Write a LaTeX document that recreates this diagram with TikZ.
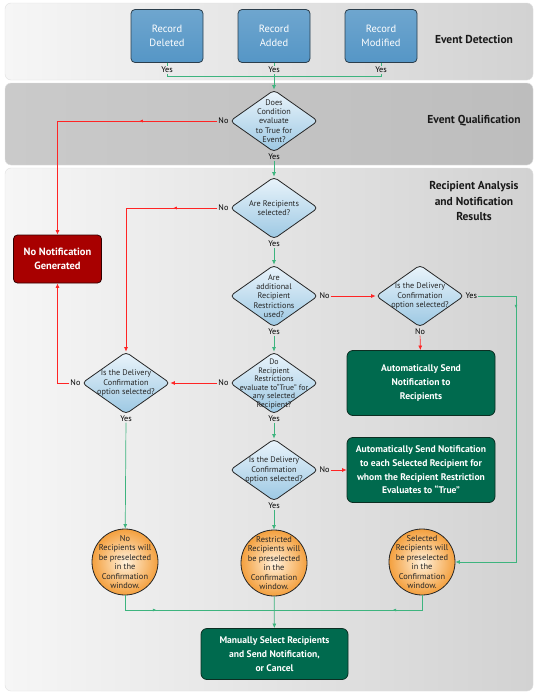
\documentclass[tikz,border=0pt]{standalone}
\usepackage{fontspec}
\setmainfont{PT Sans}
\usetikzlibrary{arrows.meta,shapes.geometric,decorations.markings}

\definecolor{laneL}{HTML}{F6F6F6}
\definecolor{laneM}{HTML}{EEEEEE}
\definecolor{laneR}{HTML}{D2D2D2}
\definecolor{qualL}{HTML}{CACACA}
\definecolor{qualR}{HTML}{BDBDBD}
\definecolor{recblue}{HTML}{5596C6}
\definecolor{recedge}{HTML}{2B3E4C}
\definecolor{qtop}{HTML}{EAF4FB}
\definecolor{qbot}{HTML}{9CC8E3}
\definecolor{nored}{HTML}{A80000}
\definecolor{okgreen}{HTML}{006A4E}
\definecolor{okedge}{HTML}{0C2E22}
\definecolor{linegreen}{HTML}{3DB47E}
\definecolor{linered}{HTML}{FF2424}
\definecolor{orin}{HTML}{FFF1DC}
\definecolor{orout}{HTML}{F4A03E}

\tikzset{
  band/.style   = {rounded corners=6pt, draw=black!12},
  title/.style  = {font=\fontsize{11.5}{15.5}\selectfont\bfseries, align=center, text=black!90},
  record/.style = {draw=recedge, line width=0.8pt, rounded corners=4pt,
                   top color=recblue!85!white, bottom color=recblue,
                   minimum width=72pt, minimum height=53pt, align=center,
                   text=white, font=\fontsize{10.5}{13.5}\selectfont},
  query/.style  = {diamond, draw=black!85, line width=0.8pt, rounded corners=4pt,
                   top color=qtop, bottom color=qbot,
                   minimum width=88pt, minimum height=62pt, inner sep=0pt},
  qtext/.style  = {align=center, text=black!85, inner sep=0pt,
                   font=\fontsize{8.2}{9.2}\selectfont},
  stopbox/.style= {draw=black!70!nored, line width=0.8pt, rounded corners=4pt, fill=nored,
                   minimum width=88pt, minimum height=48pt, align=center,
                   text=white, font=\fontsize{10.5}{14}\selectfont\bfseries},
  sendbox/.style= {draw=okedge, line width=0.8pt, rounded corners=6pt, fill=okgreen,
                   minimum width=148pt, minimum height=65pt, align=center,
                   text=white, font=\fontsize{9.6}{13.7}\selectfont\bfseries},
  pick/.style   = {circle, draw=black!85, line width=0.8pt,
                   inner color=orin, outer color=orout, minimum size=66pt, inner sep=0pt},
  ptext/.style  = {align=center, text=black!85, inner sep=0pt,
                   font=\fontsize{8.4}{9.4}\selectfont},
  lbl/.style    = {font=\fontsize{8.2}{9}\selectfont, inner sep=1pt, text=black},
  yesline/.style= {draw=linegreen, line width=0.7pt},
  noline/.style = {draw=linered, line width=0.7pt},
  midarr/.style = {postaction={decorate, decoration={markings,
                   mark=at position #1 with {\arrow{Latex[length=3.5pt,width=3pt]}}}}},
  >={Latex[length=4.5pt,width=4pt]}
}

\begin{document}
\begin{tikzpicture}[x=1pt,y=-1pt]
  \useasboundingbox[fill=white] (0,0) rectangle (538,696);

  % lanes
  \path[band, left color=laneL, middle color=laneM, right color=laneR] (5,3) rectangle (533,80);
  \path[band, left color=qualL, right color=qualR] (5,83) rectangle (533,165);
  \path[band, left color=laneL, middle color=laneM, right color=laneR] (5,168) rectangle (533,691);

  \node[title] (tdet)  at (474,39)  {Event Detection};
  \node[title] (tqual) at (474,121) {Event Qualification};
  \node[title] (tres)  at (474,201) {Recipient Analysis\\and Notification\\Results};

  % event detection
  \node[record] (del) at (167,36) {Record\\Deleted};
  \node[record] (add) at (274,36) {Record\\Added};
  \node[record] (mod) at (381,36) {Record\\Modified};
  \node[lbl] (delyes) at (167,70) {Yes};
  \node[lbl] (addyes) at (274,70) {Yes};
  \node[lbl] (modyes) at (381,70) {Yes};
  \coordinate (join) at (274,76);

  % decisions
  \node[query] (d1) at (274,121) {};
  \node[qtext] at (d1) {Does\\Condition\\evaluate\\to True for\\Event?};
  \node[query] (d2) at (274,208) {};
  \node[qtext] at (d2) {Are Recipients\\selected?};
  \node[query] (d3) at (274,296) {};
  \node[qtext] at (d3) {Are\\additional\\Recipient\\Restrictions\\used?};
  \node[query] (d4) at (274,383) {};
  \node[qtext, font=\fontsize{7.9}{8.5}\selectfont] at ([yshift=-1pt]d4) {Do\\Recipient\\Restrictions\\evaluate to“True” for\\any selected\\Recipient?};
  \node[query] (d5) at (420,296) {};
  \node[qtext] at (d5) {Is the Delivery\\Confirmation\\option selected?};
  \node[query] (d6) at (126,383) {};
  \node[qtext] at (d6) {Is the Delivery\\Confirmation\\option selected?};
  \node[query] (d7) at (274,470) {};
  \node[qtext] at (d7) {Is the Delivery\\Confirmation\\option selected?};

  \node[lbl, anchor=east]  (d1no)  at (d1.west)  {No};
  \node[lbl, anchor=north] (d1yes) at (d1.south) {Yes};
  \node[lbl, anchor=east]  (d2no)  at (d2.west)  {No};
  \node[lbl, anchor=north] (d2yes) at (d2.south) {Yes};
  \node[lbl, anchor=west]  (d3no)  at (d3.east)  {No};
  \node[lbl, anchor=north] (d3yes) at (d3.south) {Yes};
  \node[lbl, anchor=east]  (d4no)  at (d4.west)  {No};
  \node[lbl, anchor=north] (d4yes) at (d4.south) {Yes};
  \node[lbl, anchor=west]  (d5yes) at (d5.east)  {Yes};
  \node[lbl, anchor=north] (d5no)  at (d5.south) {No};
  \node[lbl, anchor=east]  (d6no)  at (d6.west)  {No};
  \node[lbl, anchor=north] (d6yes) at (d6.south) {Yes};
  \node[lbl, anchor=west]  (d7no)  at (d7.east)  {No};
  \node[lbl, anchor=north] (d7yes) at (d7.south) {Yes};

  % results
  \node[stopbox] (nonote) at (57.5,259) {No Notification\\Generated};
  \node[sendbox] (auto1) at (421,383) {Automatically Send\\Notification to\\Recipients};
  \node[sendbox] (auto2) at (421,470) {Automatically Send Notification\\to each Selected Recipient for\\whom the Recipient Restriction\\Evaluates to “True”};
  \node[pick] (c1) at (125,562) {};
  \node[ptext] at (c1) {No\\Recipients will\\be preselected\\in the\\Confirmation\\window.};
  \node[pick] (c2) at (274,563) {};
  \node[ptext] at (c2) {Restricted\\Recipients will\\be preselected\\in the\\Confirmation\\window.};
  \node[pick] (c3) at (422,562) {};
  \node[ptext] at (c3) {Selected\\Recipients will\\be preselected\\in the\\Confirmation\\window.};
  \node[sendbox, minimum width=147pt, minimum height=51pt] (manual) at (274.5,654)
       {Manually Select Recipients\\and Send Notification,\\or Cancel};
  \coordinate (rturn) at (516,562);
  \coordinate (merge) at (274,610);

  % yes connectors
  \draw[yesline] (del) -- (delyes);
  \draw[yesline] (mod) -- (modyes);
  \draw[yesline] (add) -- (addyes);
  \draw[yesline] (delyes) |- (join);
  \draw[yesline] (modyes) |- (join);
  \draw[yesline,->] (addyes) -- (d1);
  \draw[yesline,->] (d1yes) -- (d2);
  \draw[yesline,->] (d2yes) -- (d3);
  \draw[yesline,->] (d3yes) -- (d4);
  \draw[yesline,->] (d4yes) -- (d7);
  \draw[yesline,->] (d6yes) -- (c1);
  \draw[yesline,->] (d7yes) -- (c2);
  \draw[yesline,->,midarr=50pt] (d5yes) -| (rturn) -- (c3);
  \draw[yesline,midarr=46pt] (c1) |- (merge);
  \draw[yesline,midarr=44pt] (c3) |- (merge);
  \draw[yesline,->] (c2) -- (manual);

  % no connectors
  \draw[noline,->,midarr=78pt] (d1no) -| (nonote);
  \draw[noline,->,midarr=44pt] (d2no) -| (d6);
  \draw[noline,->] (d3no) -- (d5);
  \draw[noline,->] (d5no) -- (auto1);
  \draw[noline,->] (d4no) -- (d6);
  \draw[noline,->] (d6no) -| (nonote);
  \draw[noline,->] (d7no) -- (auto2);
\end{tikzpicture}
\end{document}
